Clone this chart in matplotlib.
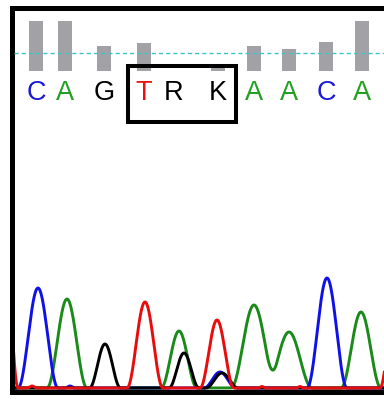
import numpy as np
import matplotlib
matplotlib.use('Agg')
import matplotlib.pyplot as plt
from matplotlib.patches import Rectangle

W, H = 384, 399

# base calls and their quality values
bases = ['C', 'A', 'G', 'T', 'R', 'K', 'A', 'A', 'C', 'A']
base_pos = [36, 65, 104, 144, 174, 218, 254, 289, 326, 362]
quality = [55, 55, 27.5, 31, 0, 3.5, 27.5, 24, 32, 55]
threshold = 20

# trace peaks per channel: position, height, half width
blue_pos = [38, 70, 220, 327]
blue_h = [100, 2, 16, 110]
blue_w = [20, 5, 16, 20]

green_pos = [67, 179, 254, 289, 361]
green_h = [89, 57, 83, 56, 76]
green_w = [20, 18, 23, 23, 20]

black_pos = [105, 184, 222]
black_h = [44, 35, 15]
black_w = [15.5, 15, 16]

red_pos = [4, 32, 145, 217, 262, 300, 398]
red_h = [160, 2, 86, 68, 1.5, 1.5, 120]
red_w = [14, 5, 18, 17, 4, 4, 18]

base_colors = {'A': '#22a022', 'C': '#1a1ad8', 'G': 'black', 'T': '#ee1010',
               'R': 'black', 'K': 'black'}


def trace(x, pos, h, w):
    y = np.zeros_like(x)
    for p, a, s in zip(pos, h, w):
        d = np.abs(x - p)
        y += np.where(d < s, a * np.cos(np.pi * d / (2 * s)) ** 2, 0)
    return y


def px(l, t, r, b):
    return [l / W, 1 - b / H, (r - l) / W, (b - t) / H]


fig = plt.figure(figsize=(W / 100, H / 100), dpi=100)

# chromatogram with the frame
ax = fig.add_axes(px(11.5, 7.5, 384, 391.5))
ax.set_xlim(11.5, 384)
ax.set_ylim(-3.5, 380.5)
x = np.arange(0, 400, 0.25)
ax.plot(x, trace(x, green_pos, green_h, green_w), color='#1a8a1a', lw=2.1)
ax.plot(x, trace(x, blue_pos, blue_h, blue_w), color='#1010e8', lw=2.1)
ax.plot(x, trace(x, black_pos, black_h, black_w), color='black', lw=2.1)
ax.plot(x, trace(x, red_pos, red_h, red_w), color='#e80c0c', lw=2.1)
ax.set_xticks([])
ax.set_yticks([])
ax.spines['right'].set_visible(False)
for s in ['left', 'top', 'bottom']:
    ax.spines[s].set_linewidth(3.6)

# quality bars + base letters
k = 1.1  # quality units per pixel
aq = fig.add_axes(px(11.5, 7.5, 384, 130))
aq.set_xlim(11.5, 384)
aq.set_ylim((71 - 130) * k, (71 - 7.5) * k)
aq.axis('off')
aq.patch.set_alpha(0)
aq.bar(base_pos, quality, width=14, color='#a2a2a6', zorder=1)
aq.axhline(threshold, xmin=0.007, color='#3cc4c8', lw=1.0, ls=(0, (3, 2.2)), zorder=2)
for b, p in zip(bases, base_pos):
    aq.text(p, (71 - 100) * k, b, color=base_colors[b], fontsize=19.5,
            family='Liberation Sans', ha='center', va='baseline')

x0 = base_pos[3] - 16
x1 = base_pos[5] + 18
aq.add_patch(Rectangle((x0, (71 - 122) * k), x1 - x0, (122 - 66) * k,
                       fill=False, edgecolor='black', lw=2.9, zorder=3, clip_on=False))

fig.savefig('out.png', dpi=100)
